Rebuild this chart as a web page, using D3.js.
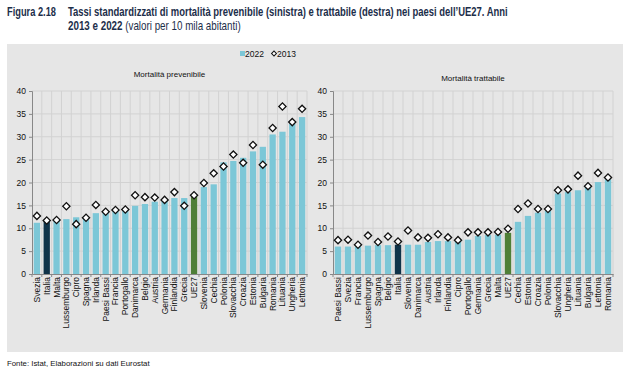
<!DOCTYPE html>
<html>
<head>
<meta charset="utf-8">
<script src="https://cdn.jsdelivr.net/npm/d3@7"></script>
<style>
  body { margin: 0; background: #fff; }
  svg { display: block; font-family: "Liberation Sans", Arial, sans-serif; }
</style>
</head>
<body>
<div></div>
<script>
const w = 628;
const h = 374;

const prevCountries = ["Svezia", "Italia", "Malta", "Lussemburgo", "Cipro", "Spagna", "Irlanda", "Paesi Bassi", "Francia", "Portogallo", "Danimarca", "Belgio", "Austria", "Germania", "Finlandia", "Grecia", "UE27", "Slovenia", "Cechia", "Polonia", "Slovacchia", "Croazia", "Estonia", "Bulgaria", "Romania", "Lituania", "Ungheria", "Lettonia"];
const prev2022 = [11.2, 11.6, 11.8, 12.0, 12.4, 12.2, 13.3, 13.7, 13.9, 14.0, 14.9, 15.3, 15.8, 16.1, 16.6, 16.6, 17.1, 19.0, 19.6, 24.4, 24.7, 25.4, 26.8, 27.8, 30.5, 31.1, 32.8, 34.3];
const prev2013 = [12.7, 11.7, 11.8, 14.8, 10.9, 12.3, 15.1, 13.6, 14.0, 14.1, 17.2, 16.8, 16.7, 16.2, 17.9, 14.9, 17.2, 19.9, 22.0, 23.5, 26.1, 24.3, 28.2, 23.9, 31.9, 36.6, 33.2, 36.1];

const tratCountries = ["Paesi Bassi", "Svezia", "Francia", "Lussemburgo", "Spagna", "Belgio", "Italia", "Slovenia", "Danimarca", "Austria", "Irlanda", "Finlandia", "Cipro", "Portogallo", "Germania", "Grecia", "Malta", "UE27", "Cechia", "Estonia", "Croazia", "Polonia", "Slovacchia", "Ungheria", "Lituania", "Bulgaria", "Lettonia", "Romania"];
const trat2022 = [6.0, 6.0, 6.0, 6.2, 6.3, 6.3, 6.4, 6.4, 6.4, 7.0, 7.2, 7.2, 7.2, 7.5, 8.3, 8.5, 8.6, 9.0, 11.4, 12.7, 13.4, 13.8, 17.6, 17.9, 18.3, 19.2, 20.1, 20.7];
const trat2013 = [7.4, 7.5, 6.4, 8.4, 7.0, 8.2, 7.1, 9.5, 8.0, 7.9, 8.7, 8.0, 7.4, 9.1, 9.1, 9.1, 9.2, 9.9, 14.2, 15.4, 14.2, 14.2, 18.3, 18.5, 21.5, 19.2, 22.1, 21.1];

const yTicks = [0, 5, 10, 15, 20, 25, 30, 35, 40];

const barColor = "#7cc7d7";
const italyColor = "#0f3349";
const euColor = "#4f7f37";

const svg = d3.select("div").append("svg").attr("width", w).attr("height", h);

// title (condensed by horizontal scale, no narrow font available)
const titleColor = "#1c2e4a";
function squeezed(x, y, width, build) {
  const t = svg.append("text")
    .attr("font-size", 12.5).attr("fill", titleColor)
    .attr("transform", "translate(" + x + "," + y + ")");
  build(t);
  const natural = t.node().getComputedTextLength();
  t.attr("transform", "translate(" + x + "," + y + ") scale(" + (width / natural) + ",1)");
}
squeezed(7, 16, 49, (t) => t.attr("font-weight", "bold").text("Figura 2.18"));
squeezed(68, 16, 440, (t) => t.attr("font-weight", "bold")
  .text("Tassi standardizzati di mortalità prevenibile (sinistra) e trattabile (destra) nei paesi dell’UE27. Anni"));
squeezed(68, 30, 173, (t) => {
  t.append("tspan").attr("font-weight", "bold").text("2013 e 2022 ");
  t.append("tspan").text("(valori per 10 mila abitanti)");
});

// panel background
svg.append("rect")
  .attr("x", 7).attr("y", 44).attr("width", 616).attr("height", 308)
  .attr("fill", "#e6e6e6");

// legend
svg.append("rect").attr("x", 240).attr("y", 51).attr("width", 5).attr("height", 5).attr("fill", barColor);
svg.append("text").attr("x", 245).attr("y", 56.5).attr("font-size", 8.5).attr("fill", "#111").text("2022");
svg.append("path")
  .attr("d", d3.symbol(d3.symbolSquare, 12)())
  .attr("transform", "translate(274,53.5) rotate(45)")
  .attr("fill", "#fff").attr("stroke", "#111").attr("stroke-width", 1);
svg.append("text").attr("x", 277).attr("y", 56.5).attr("font-size", 8.5).attr("fill", "#111").text("2013");

function drawPanel(cfg) {
  const x = d3.scaleBand().domain(cfg.countries).range([cfg.x0, cfg.x1]).paddingInner(0.36).paddingOuter(0.18);
  const y = d3.scaleLinear().domain([0, 40]).range([274, 91]);
  const g = svg.append("g");

  g.append("text")
    .attr("x", (cfg.x0 + cfg.x1) / 2).attr("y", cfg.titleY)
    .attr("text-anchor", "middle").attr("font-size", 8).attr("fill", "#111")
    .text(cfg.title);

  // horizontal grid
  g.selectAll("line.hg").data(yTicks.slice(1)).enter().append("line")
    .attr("x1", cfg.x0).attr("x2", cfg.x1)
    .attr("y1", (d) => y(d)).attr("y2", (d) => y(d))
    .attr("stroke", "#d2d2d2").attr("stroke-width", 1);
  // vertical grid at band boundaries
  const n = cfg.countries.length;
  const bounds = d3.range(1, n + 1).map((i) => cfg.x0 + i * (cfg.x1 - cfg.x0) / n);
  g.selectAll("line.vg").data(bounds).enter().append("line")
    .attr("x1", (d) => d).attr("x2", (d) => d)
    .attr("y1", y(40)).attr("y2", y(0))
    .attr("stroke", "#d2d2d2").attr("stroke-width", 1);

  // bars
  g.selectAll("rect.bar").data(cfg.countries).enter().append("rect")
    .attr("x", (d) => x(d))
    .attr("width", x.bandwidth())
    .attr("y", (d, i) => y(cfg.v2022[i]))
    .attr("height", (d, i) => y(0) - y(cfg.v2022[i]))
    .attr("fill", (d) => d === "Italia" ? italyColor : d === "UE27" ? euColor : barColor);

  // y axis
  const yAxis = d3.axisLeft(y).tickValues(yTicks).tickSize(3).tickPadding(3);
  const ya = g.append("g").attr("transform", "translate(" + cfg.x0 + ",0)").call(yAxis);
  ya.select(".domain").attr("stroke", "#888");
  ya.selectAll(".tick line").attr("stroke", "#888");
  ya.selectAll(".tick text").attr("font-size", 8.5).attr("fill", "#111").attr("font-family", "'Liberation Sans', Arial, sans-serif");

  // x axis
  const xAxis = d3.axisBottom(x).tickSize(0).tickPadding(3);
  const xa = g.append("g").attr("transform", "translate(0," + y(0) + ")").call(xAxis);
  xa.select(".domain").attr("stroke", "#888");
  xa.selectAll(".tick text")
    .attr("font-size", 8.5).attr("fill", "#111").attr("font-family", "'Liberation Sans', Arial, sans-serif")
    .attr("transform", "rotate(-90)")
    .attr("text-anchor", "end")
    .attr("x", -3).attr("y", 0).attr("dy", "0.35em");
  g.selectAll("line.xt").data([cfg.x0].concat(bounds)).enter().append("line")
    .attr("x1", (d) => d).attr("x2", (d) => d)
    .attr("y1", y(0)).attr("y2", y(0) + 3)
    .attr("stroke", "#888");

  // 2013 diamonds
  g.selectAll("path.dm").data(cfg.countries).enter().append("path")
    .attr("d", d3.symbol(d3.symbolSquare, 26)())
    .attr("transform", (d, i) => "translate(" + (x(d) + x.bandwidth() / 2) + "," + y(cfg.v2013[i]) + ") rotate(45)")
    .attr("fill", "#fff").attr("stroke", "#111").attr("stroke-width", 1.3);
}

drawPanel({ countries: prevCountries, v2022: prev2022, v2013: prev2013, x0: 32, x1: 307, title: "Mortalità prevenibile", titleY: 77 });
drawPanel({ countries: tratCountries, v2022: trat2022, v2013: trat2013, x0: 333, x1: 613, title: "Mortalità trattabile", titleY: 81 });

svg.append("text")
  .attr("x", 7).attr("y", 366)
  .attr("font-size", 7.8).attr("fill", "#111")
  .text("Fonte: Istat, Elaborazioni su dati Eurostat");
</script>
</body>
</html>
